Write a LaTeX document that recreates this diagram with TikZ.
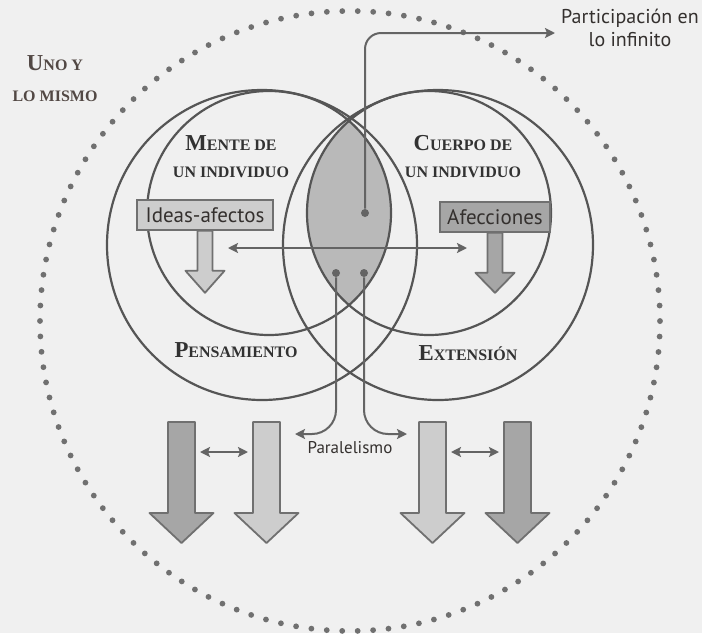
\documentclass[tikz,border=0pt]{standalone}
\usepackage{fontspec}
\setmainfont{Liberation Serif}
\newfontfamily\labelsans{PT Sans}
\usepackage{tikz}
\usetikzlibrary{arrows.meta,positioning}
\usepackage{xcolor}
\definecolor{bggray}{RGB}{240,240,240}
\definecolor{linegray}{RGB}{85,85,85}
\definecolor{dotgray}{RGB}{112,112,112}
\definecolor{conngray}{RGB}{100,100,100}
\definecolor{lensgray}{RGB}{185,185,185}
\definecolor{darkfill}{RGB}{166,166,166}
\definecolor{lightfill}{RGB}{205,205,205}
\definecolor{arrowgray}{RGB}{112,112,112}
\definecolor{headgray}{RGB}{50,50,50}
\definecolor{txtgray}{RGB}{52,48,46}
\definecolor{unogray}{RGB}{82,72,68}
\tikzset{>={Stealth[length=5pt,width=5pt,inset=1pt]}}
\tikzstyle{ring} = [draw=linegray, line width=1.1pt]
\tikzstyle{dotring} = [draw=dotgray, line width=2.9pt, line cap=round, dash pattern=on 0pt off 7.73pt]
\tikzstyle{conn} = [draw=conngray, line width=1pt, ->]
\tikzstyle{hub} = [circle, fill=conngray, inner sep=0pt, minimum size=4pt]
\tikzstyle{tag} = [rectangle, draw=arrowgray, line width=0.8pt, font=\labelsans\fontsize{10.5}{12}\selectfont, text=txtgray, inner sep=0pt, minimum height=15pt]
\tikzstyle{heading} = [align=center, text=headgray, font=\bfseries\fontsize{8}{13.5}\selectfont]
\tikzstyle{shaft} = [rectangle, inner sep=0pt, outer sep=0pt]
\tikzstyle{fat} = [draw=arrowgray, line width=0.9pt, line join=round]
\newcommand\capinit[1]{{\fontsize{11.4}{13.5}\selectfont #1}}
\newcommand\fathead[4]{%
  \draw[fat, fill=#2] (#1.north west) -- (#1.north east) -- (#1.south east)
    -- ([xshift=#3]#1.south east) -- ([yshift=-#4]#1.south)
    -- ([xshift=-#3]#1.south west) -- (#1.south west) -- cycle;}

\begin{document}
\begin{tikzpicture}[x=0.5pt, y=-0.5pt]
\fill[bggray] (0,0) rectangle (702,633);
\useasboundingbox (0,0) rectangle (702,633);

% lens where mind and body meet
\begin{scope}
\clip (269,213) circle [radius=61pt];
\fill[lensgray] (429,213) circle [radius=61pt];
\end{scope}

% circles
\draw[ring] (262,245) circle [radius=77.5pt];
\draw[ring] (438,245) circle [radius=77.5pt];
\draw[ring] (269,213) circle [radius=61pt];
\draw[ring] (429,213) circle [radius=61pt];
\draw[dotring] (350,321) circle [radius=155pt];

% titles
\node[heading] (mente) at (231,157) {\capinit{M}ENTE DE\\UN INDIVIDUO};
\node[heading] (cuerpo) at (463,157) {\capinit{C}UERPO DE\\UN INDIVIDUO};
\node[heading] (pens) at (236,350) {\capinit{P}ENSAMIENTO};
\node[heading] (ext) at (468,353) {\capinit{E}XTENSIÓN};
\node[heading, text=unogray, font=\bfseries\fontsize{8}{15.5}\selectfont] (uno) at (55,79) {\capinit{U}NO Y\\LO MISMO};

% boxes with their arrows
\node[tag, fill=lightfill, minimum width=68pt] (ideas) at (205,215) {Ideas-afectos};
\node[tag, fill=darkfill, minimum width=55pt] (afec) at (495,217) {Afecciones};
\node[shaft, minimum width=7.5pt, minimum height=20pt, below=0pt of ideas] (ideasdown) {};
\node[shaft, minimum width=7.5pt, minimum height=20pt, below=0pt of afec] (afecdown) {};
\fathead{ideasdown}{lightfill}{6pt}{11pt}
\fathead{afecdown}{darkfill}{6pt}{10pt}

% bottom arrows
\node[shaft, minimum width=13.5pt, minimum height=45.5pt] (thinkA) at (181.5,467.5) {};
\node[shaft, minimum width=13.5pt, minimum height=45.5pt] (thinkB) at (266.5,467.5) {};
\node[shaft, minimum width=13.5pt, minimum height=45.5pt] (extA) at (432.5,467.5) {};
\node[shaft, minimum width=13.5pt, minimum height=45.5pt] (extB) at (517.5,467.5) {};
\fathead{thinkA}{darkfill}{9.25pt}{15pt}
\fathead{thinkB}{lightfill}{9.25pt}{15pt}
\fathead{extA}{lightfill}{9.25pt}{15pt}
\fathead{extB}{darkfill}{9.25pt}{15pt}
\draw[conn, <->, shorten <=2.5pt, shorten >=2.5pt] ([yshift=-15pt]thinkA.north east) -- ([yshift=-15pt]thinkB.north west);
\draw[conn, <->, shorten <=2.5pt, shorten >=2.5pt] ([yshift=-15pt]extA.north east) -- ([yshift=-15pt]extB.north west);

% connectors from the lens
\node[hub] (top) at (365,213) {};
\node[hub] (leftfoot) at (336,273) {};
\node[hub] (rightfoot) at (364,273) {};
\node[font=\labelsans\fontsize{10}{11.5}\selectfont, text=txtgray, align=center] (inf) at (630,28) {Participación en\\lo infinito};
\coordinate (infend) at (555,33);
\draw[conn, rounded corners=8pt] (top) |- (infend);
\coordinate (ml) at (228,248);
\coordinate (mr) at (467,248);
\draw[conn, <->] (ml) -- (mr);
\node[font=\labelsans\fontsize{8.5}{10}\selectfont, text=txtgray] (par) at (350,448) {Paralelismo};
\coordinate (pl) at (295,434);
\coordinate (pr) at (407,434);
\draw[conn, rounded corners=12pt] (leftfoot) |- (pl);
\draw[conn, rounded corners=12pt] (rightfoot) |- (pr);
\end{tikzpicture}
\end{document}
